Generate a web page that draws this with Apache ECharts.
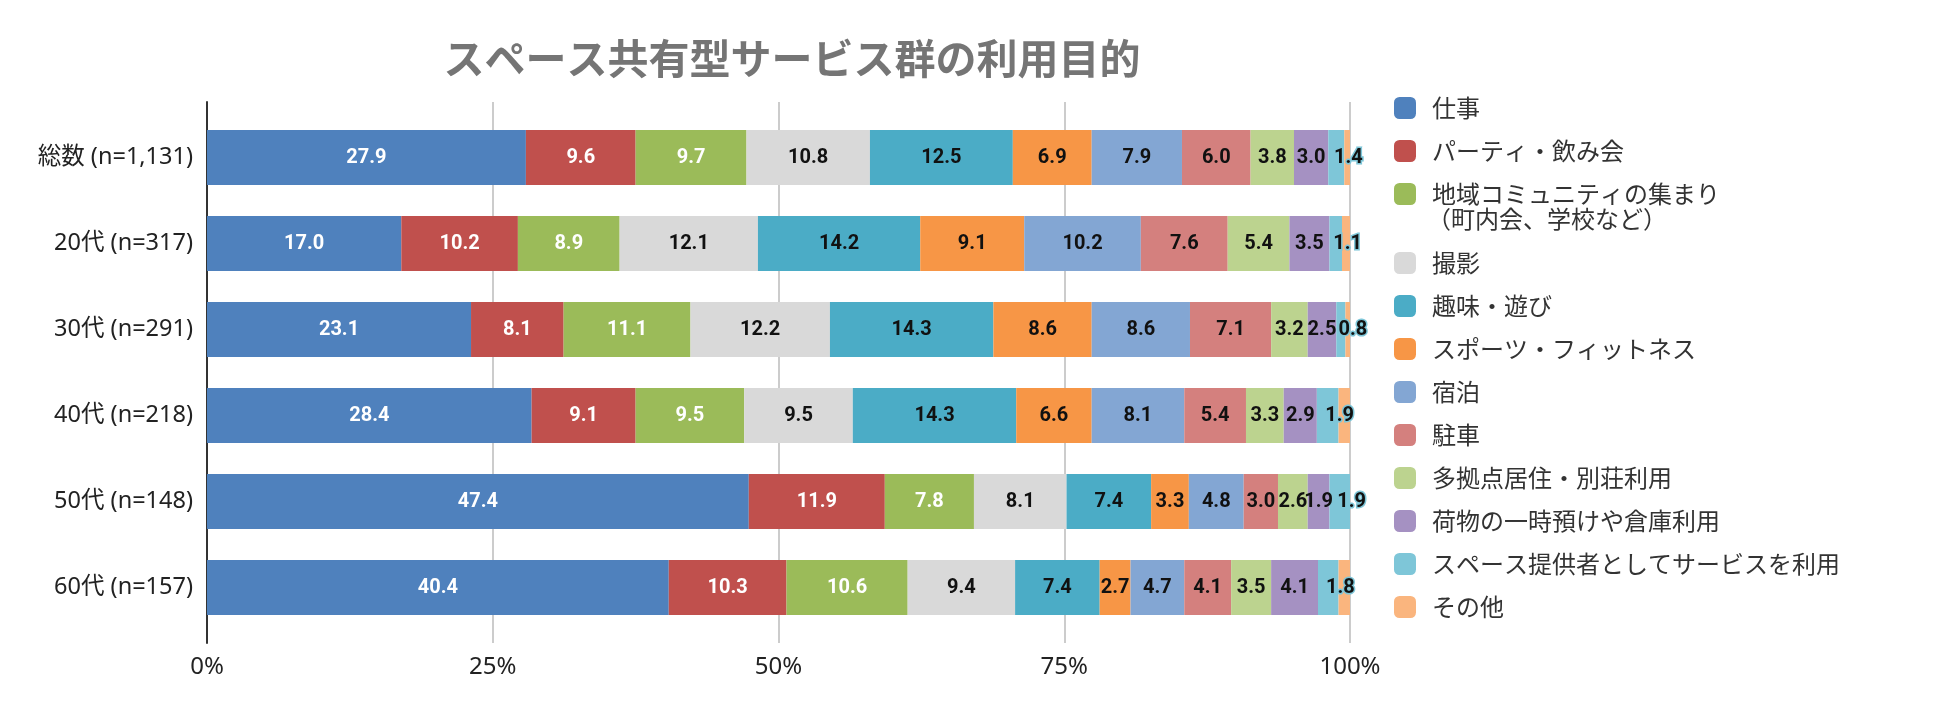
<!DOCTYPE html>
<html lang="ja">
<head>
    <meta charset="UTF-8">
    <title>スペース共有型サービス群の利用目的</title>
    <style>
        html,body{margin:0;padding:0;background:#fff;}
        #mychart{width:1950px;height:714px;}
    </style>
</head>
<body>
    <div id="mychart"></div>
    <script src="https://cdn.jsdelivr.net/npm/echarts@6.0.0/dist/echarts.min.js"></script>
    <script>
        // カテゴリ（上から順）
        var categories=['総数 (n=1,131)','20代 (n=317)','30代 (n=291)','40代 (n=218)','50代 (n=148)','60代 (n=157)']
        var xTicks=['0%','25%','50%','75%','100%']
        // 各利用目的の値(%)
        var work=[27.9,17.0,23.1,28.4,47.4,40.4]
        var party=[9.6,10.2,8.1,9.1,11.9,10.3]
        var community=[9.7,8.9,11.1,9.5,7.8,10.6]
        var photo=[10.8,12.1,12.2,9.5,8.1,9.4]
        var hobby=[12.5,14.2,14.3,14.3,7.4,7.4]
        var sports=[6.9,9.1,8.6,6.6,3.3,2.7]
        var stay=[7.9,10.2,8.6,8.1,4.8,4.7]
        var parking=[6.0,7.6,7.1,5.4,3.0,4.1]
        var multiBase=[3.8,5.4,3.2,3.3,2.6,3.5]
        var storage=[3.0,3.5,2.5,2.9,1.9,4.1]
        var provider=[1.4,1.1,0.8,1.9,1.9,1.8]
        var other=[0.5,0.7,0.4,1.0,0,1.0]

        var names=['仕事','パーティ・飲み会','地域コミュニティの集まり','撮影','趣味・遊び','スポーツ・フィットネス','宿泊','駐車','多拠点居住・別荘利用','荷物の一時預けや倉庫利用','スペース提供者としてサービスを利用','その他']
        var values=[work,party,community,photo,hobby,sports,stay,parking,multiBase,storage,provider,other]
        var colors=['#4f81bd','#c0504d','#9bbb59','#d9d9d9','#4bacc6','#f79646','#83a6d3','#d4807e','#bcd38f','#a591c2','#7ec6d8','#fab57e']

        var font='Noto Sans CJK JP'
        var labelFont='"Noto Sans", "Noto Sans CJK JP"'
        var myChart=echarts.init(document.getElementById('mychart'))

        var series=[]
        for(let i=0;i<names.length;i++){
            let label={
                show:i<names.length-1,
                position:'inside',
                fontFamily:'Roboto',
                fontWeight:'bold',
                fontSize:20,
                color:i<3?'#fff':'#111',
                formatter:(p)=>p.value>0?p.value.toFixed(1):''
            }
            if(i<3){//白文字は細め
                label.fontFamily='Liberation Sans Narrow, Roboto'
            }
            if(i==10){//はみ出るラベル
                label.offset=[12,0]
                label.textBorderColor='#7ec6d8'
                label.textBorderWidth=3
            }
            series.push({
                name:names[i],
                type:'bar',
                stack:'total',
                barWidth:55,
                xAxisIndex:0,
                yAxisIndex:0,
                itemStyle:{color:colors[i]},
                label:label,
                emphasis:{disabled:true},
                data:values[i]
            })
        }

        var legendText={fontFamily:font,fontSize:24,color:'#333',lineHeight:22,padding:[0,0,0,11]}

        var option={
            animation:false,
            title:{
                text:'スペース共有型サービス群の利用目的',
                left:787,
                top:53,
                textAlign:'center',
                textVerticalAlign:'middle',
                textStyle:{fontFamily:font,fontSize:41,fontWeight:'bold',color:'#757575'}
            },
            legend:[
                {
                    orient:'vertical',
                    left:1389,
                    top:91,
                    icon:'roundRect',
                    itemWidth:22,
                    itemHeight:22,
                    itemGap:19,
                    textStyle:legendText,
                    data:names.slice(0,3)
                },
                {
                    orient:'vertical',
                    left:1389,
                    top:246,
                    icon:'roundRect',
                    itemWidth:22,
                    itemHeight:22,
                    itemGap:19,
                    textStyle:legendText,
                    data:names.slice(3)
                }
            ],
            graphic:[
                {
                    type:'text',
                    x:1427,
                    y:219,
                    style:{text:'（町内会、学校など）',font:'24px "Noto Sans CJK JP"',fill:'#333',verticalAlign:'middle'}
                }
            ],
            grid:[
                {left:207,top:114.5,width:1143,height:516},
                {left:207,top:102,width:1143,height:541}
            ],
            xAxis:[
                {type:'value',gridIndex:0,min:0,max:100,show:false},
                {
                    type:'value',
                    gridIndex:1,
                    min:0,
                    max:100,
                    interval:25,
                    axisLine:{show:false},
                    axisTick:{show:false},
                    axisLabel:{
                        margin:12,
                        fontFamily:labelFont,
                        fontSize:24,
                        color:'#222',
                        formatter:(v)=>xTicks[v/25]
                    },
                    splitLine:{lineStyle:{color:'#cccccc',width:2}}
                }
            ],
            yAxis:[
                {
                    type:'category',
                    gridIndex:0,
                    inverse:true,
                    data:categories,
                    axisLine:{show:false},
                    axisTick:{show:false},
                    axisLabel:{margin:14,fontFamily:labelFont,fontSize:23.5,color:'#222'}
                },
                {
                    type:'value',
                    gridIndex:1,
                    min:0,
                    max:1,
                    axisLine:{show:true,lineStyle:{color:'#333',width:2}},
                    axisTick:{show:false},
                    axisLabel:{show:false},
                    splitLine:{show:false}
                }
            ],
            series:series
        }
        myChart.setOption(option)
    </script>
</body>
</html>
